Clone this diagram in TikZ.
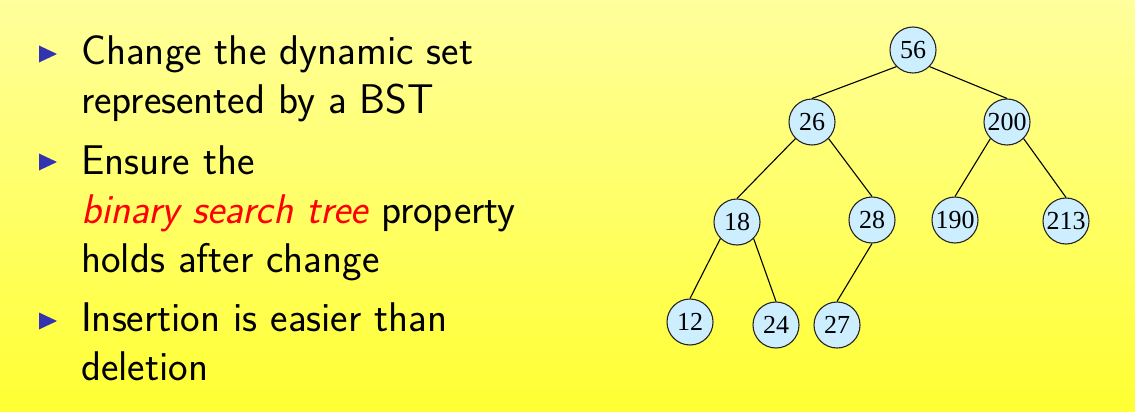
\documentclass[tikz,border=0pt]{standalone}
\usepackage{fontspec}
\newfontfamily\numfont{Liberation Serif}
\usetikzlibrary{positioning}

\definecolor{bgtop}{HTML}{FFFF9C}
\definecolor{bgbottom}{HTML}{FFFF33}
\definecolor{bulletblue}{rgb}{0.2,0.2,0.7}
\definecolor{keyfill}{HTML}{CCEEFF}

\tikzset{
    item/.style={anchor=base west, inner sep=0pt, align=left,
        font=\sffamily\fontsize{41.5}{49}\selectfont},
    key/.style={circle, draw=black!85, line width=1.1pt, fill=keyfill,
        minimum size=46pt, inner sep=0pt, font=\numfont\fontsize{26}{26}\selectfont},
    branch/.style={line width=1.1pt},
}

\begin{document}
\begin{tikzpicture}[x=1pt, y=1pt]
    % Background
    \shade[top color=bgtop, bottom color=bgbottom] (0,0) rectangle (1135,-412);
    \useasboundingbox (0,0) rectangle (1135,-412);

    % Bullet list (anchored at the last line's baseline)
    \foreach \y in {54,162,321}
        \fill[bulletblue] (39,-\y+8.5) -- (57,-\y) -- (39,-\y-8.5) -- cycle;
    \node[item] (item1) at (81,-113) {Change the dynamic set\\represented by a BST};
    \node[item] (item2) at (81,-272) {Ensure the\\{\color{red}\itshape binary search tree} property\\holds after change};
    \node[item] (item3) at (81,-380) {Insertion is easier than\\deletion};

    % Tree
    \node[key] (n56) at (913,-50) {56};
    \node[key] (n26) at (812,-122) {26};
    \node[key] (n200) at (1007,-122) {200};
    \node[key] (n18) at (737,-222) {18};
    \node[key] (n28) at (872,-220) {28};
    \node[key] (n190) at (955,-220) {190};
    \node[key] (n213) at (1066,-221) {213};
    \node[key] (n12) at (690,-322) {12};
    \node[key] (n24) at (776,-325) {24};
    \node[key] (n27) at (837,-325) {27};

    \draw[branch] (n56.south west) -- (n26.north);
    \draw[branch] (n56.south east) -- (n200.north);
    \draw[branch] (n26.south west) -- (n18.north);
    \draw[branch] (n26.south east) -- (n28.north);
    \draw[branch] (n200.south west) -- (n190.north);
    \draw[branch] (n200.south east) -- (n213.north);
    \draw[branch] (n18.south west) -- (n12.north);
    \draw[branch] (n18.south east) -- (n24.north);
    \draw[branch] (n28.south) -- (n27.north);
\end{tikzpicture}
\end{document}
